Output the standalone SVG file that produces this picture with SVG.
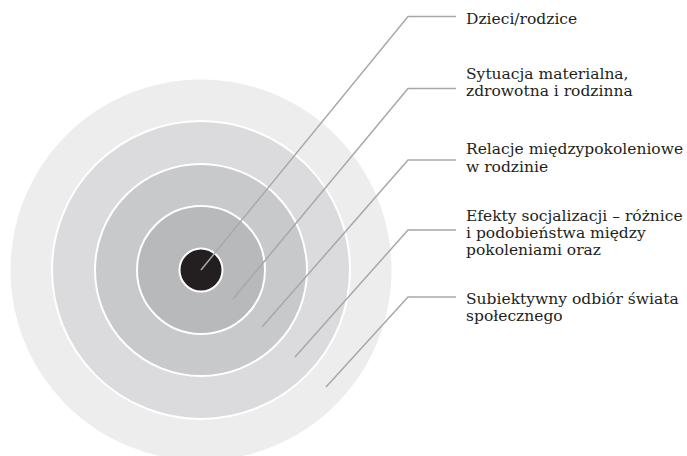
<svg xmlns="http://www.w3.org/2000/svg" width="687" height="456" viewBox="0 0 687 456">
<style>
.ring{stroke:#ffffff;stroke-width:2}
.lead{fill:none;stroke:#a7a8aa;stroke-width:1.5}
.lbl{font-family:"DejaVu Serif","Liberation Serif",serif;font-size:15.5px;fill:#231f20}
</style>
<rect width="687" height="456" fill="#ffffff"/>
<g id="ring5"><circle cx="201" cy="270" r="190.5" fill="#ededee"/></g>
<g id="ring4"><circle class="ring" cx="201" cy="270" r="149" fill="#dbdbdd"/></g>
<g id="ring3"><circle class="ring" cx="201" cy="270" r="106" fill="#c8c9cb"/></g>
<g id="ring2"><circle class="ring" cx="201" cy="270" r="64" fill="#b8b9bb"/></g>
<g id="ring1"><circle class="ring" cx="201" cy="270" r="21.5" fill="#231f20"/></g>
<g id="connectors">
<polyline class="lead" points="201,270 408,16.5 456,16.5"/>
<polyline class="lead" points="233,299 408,88.5 456,88.5"/>
<polyline class="lead" points="262,327 408,160 456,160"/>
<polyline class="lead" points="295,357 408,230 456,230"/>
<polyline class="lead" points="326,387 408,297 456,297"/>
</g>
<g id="label1"><text class="lbl" x="466" y="24">Dzieci/rodzice</text></g>
<g id="label2"><text class="lbl" x="466" y="79">Sytuacja materialna,</text><text class="lbl" x="466" y="96">zdrowotna i rodzinna</text></g>
<g id="label3"><text class="lbl" x="466" y="154">Relacje międzypokoleniowe</text><text class="lbl" x="466" y="172">w rodzinie</text></g>
<g id="label4"><text class="lbl" x="466" y="221">Efekty socjalizacji – różnice</text><text class="lbl" x="466" y="238">i podobieństwa między</text><text class="lbl" x="466" y="255">pokoleniami oraz</text></g>
<g id="label5"><text class="lbl" x="466" y="304">Subiektywny odbiór świata</text><text class="lbl" x="466" y="321">społecznego</text></g>
</svg>
